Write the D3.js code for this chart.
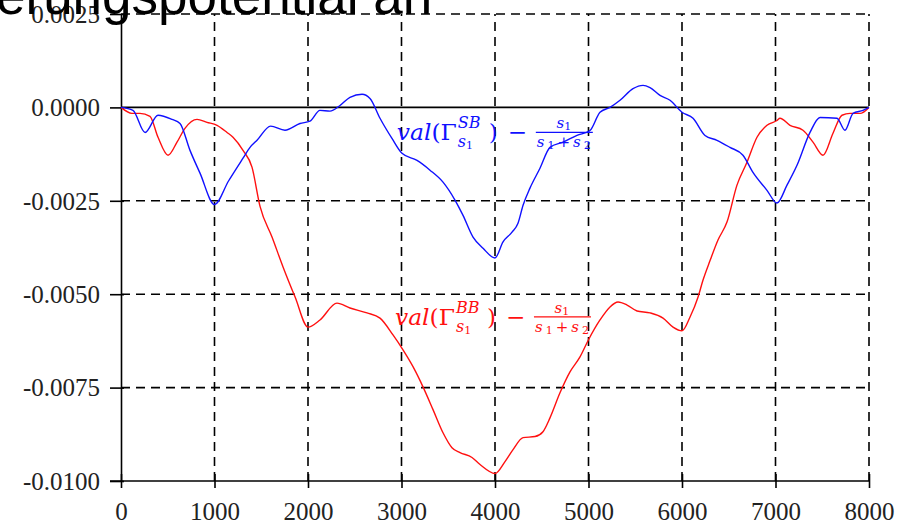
<!DOCTYPE html>
<html>
<head>
<meta charset="utf-8">
<script src="https://cdnjs.cloudflare.com/ajax/libs/d3/7.8.5/d3.min.js"></script>
<style>
  body { margin: 0; background: #fff; }
  .axis path, .axis line { stroke: #000; stroke-width: 1.6; }
  .axis text { font-family: "Liberation Serif", serif; font-size: 25px; fill: #222; }
  .grid line { stroke: #000; stroke-width: 1.6; stroke-dasharray: 9,6; }
</style>
</head>
<body>
<svg id="chart" width="897" height="524"></svg>
<script>
// tick values and labels
var xTicks = [0, 1000, 2000, 3000, 4000, 5000, 6000, 7000, 8000];
var xTickLabels = ['0', '1000', '2000', '3000', '4000', '5000', '6000', '7000', '8000'];
var yTicks = [-0.01, -0.0075, -0.005, -0.0025, 0, 0.0025];
var yTickLabels = ['-0.0100', '-0.0075', '-0.0050', '-0.0025', '0.0000', '0.0025'];

// val(Gamma^SB) - s1/(s1+s2)
var sbX = [0, 128, 257, 396, 545, 631, 738, 845, 1000, 1150, 1305, 1380, 1455, 1600, 1754, 1914, 2021, 2128,
  2235, 2342, 2449, 2578, 2663, 2770, 2898, 3005, 3166, 3305, 3444, 3572, 3658, 3765, 3872, 4000, 4086, 4182,
  4246, 4300, 4374, 4481, 4588, 4727, 4877, 5016, 5123, 5230, 5337, 5476, 5583, 5658, 5765, 5872, 6000, 6118,
  6246, 6374, 6513, 6652, 6759, 6909, 7016, 7123, 7230, 7369, 7476, 7658, 7743, 7829, 7936, 8000];
var sbY = [0, -0.00008, -0.00067, -0.00021, -0.00032, -0.00043, -0.00115, -0.00176, -0.0026, -0.00197, -0.00136,
  -0.00107, -0.00088, -0.0005, -0.00061, -0.00043, -0.00037, -0.00008, -0.0001, 0.00005, 0.00027, 0.00035,
  0.00024, -0.00029, -0.00083, -0.00123, -0.00142, -0.00168, -0.002, -0.00248, -0.00289, -0.00347, -0.00377,
  -0.00403, -0.0036, -0.00334, -0.0031, -0.00262, -0.00216, -0.00163, -0.00107, -0.00093, -0.00075, -0.00062,
  -0.00013, 0, 0.00019, 0.0005, 0.00059, 0.00053, 0.00032, 0.00019, -0.00013, -0.00029, -0.00075, -0.00088,
  -0.00107, -0.00128, -0.00174, -0.00222, -0.00256, -0.00208, -0.00155, -0.00067, -0.00027, -0.00029,
  -0.00061, -0.00016, -0.00008, 0];

// val(Gamma^BB) - s1/(s1+s2)
var bbX = [0, 117, 203, 310, 396, 503, 599, 684, 813, 920, 1027, 1134, 1198, 1305, 1401, 1487, 1615, 1733, 1861,
  2000, 2128, 2310, 2449, 2631, 2770, 2909, 3016, 3123, 3230, 3337, 3444, 3540, 3626, 3754, 3840, 4000, 4107,
  4193, 4300, 4428, 4513, 4588, 4695, 4802, 4909, 5000, 5123, 5230, 5316, 5412, 5519, 5658, 5797, 5904, 6000,
  6086, 6171, 6225, 6300, 6385, 6481, 6588, 6695, 6802, 6909, 7016, 7048, 7155, 7294, 7401, 7508, 7615, 7711,
  7797, 7904, 8000];
var bbY = [0, -0.00016, -0.00016, -0.00024, -0.0008, -0.00128, -0.00093, -0.00056, -0.00032, -0.0004, -0.00048,
  -0.00067, -0.0008, -0.00115, -0.0016, -0.00265, -0.00347, -0.00427, -0.00507, -0.00588, -0.00569, -0.00524,
  -0.00537, -0.0055, -0.00564, -0.00609, -0.00649, -0.00694, -0.00748, -0.00809, -0.00871, -0.00911, -0.00924,
  -0.00937, -0.00956, -0.0098, -0.00948, -0.00916, -0.00884, -0.00881, -0.00868, -0.00831, -0.00764, -0.00708,
  -0.00668, -0.00622, -0.00569, -0.00534, -0.00521, -0.00529, -0.00545, -0.0055, -0.00564, -0.00588, -0.00598,
  -0.00561, -0.00508, -0.00462, -0.0041, -0.00355, -0.00307, -0.00208, -0.00147, -0.0008, -0.00048, -0.00035,
  -0.00029, -0.00048, -0.00061, -0.00093, -0.00128, -0.00069, -0.00021, -0.00016, -0.00016, 0];

var sbColor = '#1010ff', bbColor = '#ff1010';

var svg = d3.select('#chart');
var margin = { top: 14, right: 28, bottom: 43, left: 121 };
var width = 897 - margin.left - margin.right,
  height = 524 - margin.top - margin.bottom;

var x = d3.scaleLinear().domain([0, 8000]).range([margin.left, margin.left + width]);
var y = d3.scaleLinear().domain([-0.01, 0.0025]).range([margin.top + height, margin.top]);

// DASHED GRID (zero and bottom are drawn solid)
var grid = svg.append('g').attr('class', 'grid');
grid.selectAll('.v')
  .data(xTicks.filter(function (d) { return d > 0; }))
  .enter().append('line')
  .attr('x1', function (d) { return x(d); })
  .attr('x2', function (d) { return x(d); })
  .attr('y1', y(-0.01))
  .attr('y2', y(0.0025));
grid.selectAll('.h')
  .data(yTicks.filter(function (d) { return d !== 0 && d !== -0.01; }))
  .enter().append('line')
  .attr('x1', x(0))
  .attr('x2', x(8000))
  .attr('y1', function (d) { return y(d); })
  .attr('y2', function (d) { return y(d); });

svg.append('line')
  .attr('x1', x(0)).attr('x2', x(8000))
  .attr('y1', y(0)).attr('y2', y(0))
  .attr('stroke', '#000').attr('stroke-width', 1.6);

// AXES
var yAxis = d3.axisLeft(y)
  .tickValues(yTicks)
  .tickSize(11)
  .tickSizeOuter(0)
  .tickPadding(10)
  .tickFormat(function (d, i) { return yTickLabels[i]; });

var gy = svg.append('g')
  .attr('class', 'axis y')
  .attr('transform', translation(x(0), 0))
  .call(yAxis);
gy.selectAll('.tick line').attr('x1', 3);
gy.selectAll('.tick text').attr('dy', '0.33em');

var xAxis = d3.axisBottom(x)
  .tickValues(xTicks)
  .tickSize(7)
  .tickSizeOuter(0)
  .tickFormat(function (d, i) { return xTickLabels[i]; });

var gx = svg.append('g')
  .attr('class', 'axis x')
  .attr('transform', translation(0, y(-0.01)))
  .call(xAxis);
gx.selectAll('.tick line').attr('y1', -7);
gx.selectAll('.tick text').attr('y', 39).attr('dy', 0);
gx.select('.domain').attr('d', 'M' + (x(0) - 11) + ',0H' + x(8000));

// CURVES
var line = d3.line()
  .curve(d3.curveMonotoneX)
  .x(function (d) { return x(d[0]); })
  .y(function (d) { return y(d[1]); });

svg.append('path')
  .datum(d3.zip(bbX, bbY))
  .attr('d', line)
  .attr('fill', 'none')
  .attr('stroke', bbColor)
  .attr('stroke-width', 1.4)
  .attr('stroke-linejoin', 'round');

svg.append('path')
  .datum(d3.zip(sbX, sbY))
  .attr('d', line)
  .attr('fill', 'none')
  .attr('stroke', sbColor)
  .attr('stroke-width', 1.4)
  .attr('stroke-linejoin', 'round');

// LABELS
drawLabel(x(2950), y(-0.00088), 'SB', sbColor);
drawLabel(x(2930), y(-0.00582), 'BB', bbColor);

function drawLabel(ox, oy, sup, color) {
  var g = svg.append('g')
    .attr('transform', translation(ox, oy))
    .attr('fill', color)
    .style('font-family', '"DejaVu Serif", serif');

  var t = g.append('text')
    .attr('textLength', 60)
    .attr('lengthAdjust', 'spacingAndGlyphs')
    .style('font-size', '23px');
  t.append('tspan').style('font-style', 'italic').text('val');
  t.append('tspan').text('(Γ');

  g.append('text')
    .attr('x', 61).attr('y', -12)
    .style('font-size', '16px').style('font-style', 'italic')
    .text(sup);

  var sub = g.append('text').attr('x', 61).attr('y', 7).style('font-size', '16px');
  sub.append('tspan').style('font-style', 'italic').text('s');
  sub.append('tspan').attr('dy', 2).style('font-size', '11px').text('1');

  g.append('text').attr('x', 92).attr('y', 0).style('font-size', '23px').text(')');
  g.append('text').attr('x', 111).attr('y', 0).style('font-size', '23px').text('−');

  g.append('line')
    .attr('x1', 139).attr('x2', 196)
    .attr('y1', -8).attr('y2', -8)
    .attr('stroke', color).attr('stroke-width', 1.3);

  var num = g.append('text')
    .attr('x', 167).attr('y', -12)
    .attr('text-anchor', 'middle')
    .style('font-size', '15px');
  num.append('tspan').style('font-style', 'italic').text('s');
  num.append('tspan').attr('dy', 2).style('font-size', '11px').text('1');

  var den = g.append('text')
    .attr('x', 140).attr('y', 7)
    .attr('textLength', 54)
    .attr('lengthAdjust', 'spacing')
    .style('font-size', '15px');
  den.append('tspan').style('font-style', 'italic').text('s');
  den.append('tspan').attr('dy', 2).style('font-size', '11px').text('1');
  den.append('tspan').attr('dy', -2).text('+');
  den.append('tspan').style('font-style', 'italic').text('s');
  den.append('tspan').attr('dy', 2).style('font-size', '11px').text('2');
}

// overlapping heading fragment at top
svg.append('text')
  .attr('x', -4)
  .attr('y', 14)
  .style('font-family', '"Liberation Sans", Arial, sans-serif')
  .style('font-size', '53px')
  .attr('fill', '#000')
  .text('erungspotential an');

function translation(x, y) {
  return 'translate(' + x + ',' + y + ')';
}
</script>
</body>
</html>
